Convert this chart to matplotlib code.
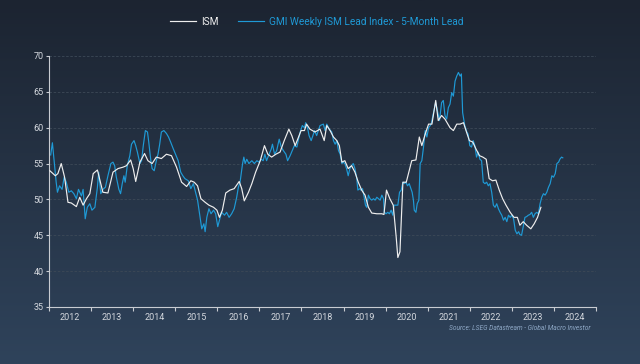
import matplotlib
matplotlib.use("Agg")
import matplotlib.pyplot as plt
import numpy as np

plt.rcParams['font.family'] = ['Roboto', 'DejaVu Sans']

# ISM (monthly) - decimal year / index level
ism_x = [2012.02, 2012.15, 2012.21, 2012.29, 2012.37, 2012.45, 2012.53, 2012.65, 2012.73, 2012.81,
         2012.89, 2012.97, 2013.05, 2013.15, 2013.20, 2013.28, 2013.40, 2013.52, 2013.64, 2013.76,
         2013.84, 2013.94, 2014.00, 2014.06, 2014.16, 2014.27, 2014.35, 2014.45, 2014.55, 2014.67,
         2014.79, 2014.91, 2015.03, 2015.15, 2015.27, 2015.37, 2015.45, 2015.53, 2015.61, 2015.71,
         2015.80, 2015.91, 2015.99, 2016.05, 2016.12, 2016.20, 2016.30, 2016.40, 2016.52, 2016.58,
         2016.64, 2016.74, 2016.82, 2016.91, 2017.02, 2017.12, 2017.20, 2017.29, 2017.39, 2017.49,
         2017.59, 2017.70, 2017.77, 2017.85, 2017.93, 2017.99, 2018.07, 2018.12, 2018.20, 2018.32,
         2018.44, 2018.54, 2018.60, 2018.68, 2018.76, 2018.84, 2018.90, 2018.96, 2019.03, 2019.11,
         2019.19, 2019.27, 2019.35, 2019.43, 2019.51, 2019.59, 2019.67, 2019.79, 2019.91, 2019.96,
         2020.02, 2020.10, 2020.18, 2020.25, 2020.29, 2020.34, 2020.41, 2020.49, 2020.56, 2020.62,
         2020.72, 2020.80, 2020.86, 2020.94, 2021.02, 2021.10, 2021.19, 2021.25, 2021.33, 2021.41,
         2021.53, 2021.61, 2021.69, 2021.77, 2021.85, 2021.91, 2021.99, 2022.07, 2022.15, 2022.23,
         2022.31, 2022.39, 2022.46, 2022.54, 2022.62, 2022.70, 2022.78, 2022.86, 2022.96, 2023.05,
         2023.13, 2023.19, 2023.27, 2023.35, 2023.45, 2023.53, 2023.61, 2023.69]
ism_y = [54.0, 53.3, 53.6, 55.0, 53.1, 49.6, 49.5, 49.0, 50.3, 49.2,
         50.1, 50.8, 53.6, 54.1, 52.9, 51.0, 50.9, 53.8, 54.3, 54.5,
         54.7, 55.5, 54.3, 52.5, 55.2, 56.4, 55.4, 55.0, 55.9, 55.7,
         56.3, 56.1, 54.5, 52.4, 51.8, 52.6, 52.4, 51.9, 50.1, 49.6,
         49.2, 48.9, 48.5, 47.5, 48.5, 50.9, 51.3, 51.5, 52.5, 51.5,
         49.8, 51.0, 52.2, 53.8, 55.4, 57.5, 56.3, 55.9, 56.3, 56.6,
         58.2, 59.8, 58.9, 57.5, 58.7, 59.6, 59.6, 60.5, 59.8, 59.4,
         59.8, 58.2, 60.3, 59.6, 58.7, 58.2, 57.5, 55.2, 55.4, 54.3,
         54.7, 53.8, 52.4, 51.3, 50.6, 48.9, 48.1, 48.0, 48.0, 47.9,
         51.3, 50.1, 49.2, 44.8, 41.9, 42.7, 52.4, 52.4, 54.0, 55.4,
         55.5, 58.7, 57.5, 59.1, 60.5, 60.5, 63.8, 61.0, 61.7, 61.2,
         60.0, 59.6, 60.5, 60.5, 60.7, 59.6, 58.2, 58.0, 57.0, 56.1,
         55.9, 55.6, 52.9, 52.6, 52.7, 51.3, 50.1, 49.2, 48.2, 47.5,
         47.5, 46.4, 46.9, 46.4, 45.9, 46.6, 47.5, 48.9]

# GMI weekly lead index (shifted 5 months forward)
gmi_x = [2012.04, 2012.08, 2012.12, 2012.17, 2012.20, 2012.25, 2012.31, 2012.36, 2012.41, 2012.47,
         2012.53, 2012.59, 2012.65, 2012.70, 2012.77, 2012.81, 2012.86, 2012.91, 2012.97, 2013.02,
         2013.09, 2013.15, 2013.18, 2013.23, 2013.28, 2013.34, 2013.40, 2013.47, 2013.52, 2013.56,
         2013.60, 2013.66, 2013.70, 2013.74, 2013.78, 2013.81, 2013.86, 2013.92, 2013.96, 2014.02,
         2014.06, 2014.10, 2014.16, 2014.20, 2014.24, 2014.29, 2014.34, 2014.37, 2014.42, 2014.45,
         2014.50, 2014.55, 2014.59, 2014.63, 2014.67, 2014.73, 2014.79, 2014.84, 2014.89, 2014.95,
         2015.00, 2015.07, 2015.13, 2015.18, 2015.23, 2015.31, 2015.37, 2015.43, 2015.49, 2015.53,
         2015.59, 2015.63, 2015.68, 2015.71, 2015.75, 2015.80, 2015.85, 2015.91, 2015.96, 2016.01,
         2016.05, 2016.10, 2016.17, 2016.22, 2016.28, 2016.34, 2016.40, 2016.46, 2016.50, 2016.54,
         2016.60, 2016.63, 2016.66, 2016.70, 2016.75, 2016.82, 2016.88, 2016.94, 2016.99, 2017.04,
         2017.09, 2017.13, 2017.17, 2017.23, 2017.28, 2017.31, 2017.36, 2017.41, 2017.47, 2017.52,
         2017.57, 2017.63, 2017.67, 2017.73, 2017.78, 2017.83, 2017.89, 2017.93, 2017.97, 2018.02,
         2018.07, 2018.10, 2018.15, 2018.18, 2018.23, 2018.26, 2018.31, 2018.36, 2018.44, 2018.52,
         2018.56, 2018.60, 2018.66, 2018.72, 2018.76, 2018.80, 2018.84, 2018.88, 2018.92, 2018.96,
         2018.99, 2019.03, 2019.07, 2019.11, 2019.15, 2019.19, 2019.23, 2019.27, 2019.31, 2019.34,
         2019.38, 2019.41, 2019.45, 2019.49, 2019.52, 2019.55, 2019.59, 2019.63, 2019.67, 2019.71,
         2019.75, 2019.79, 2019.83, 2019.87, 2019.91, 2019.95, 2019.97, 2020.01, 2020.05, 2020.09,
         2020.13, 2020.17, 2020.20, 2020.25, 2020.29, 2020.33, 2020.37, 2020.41, 2020.44, 2020.48,
         2020.52, 2020.56, 2020.60, 2020.63, 2020.66, 2020.68, 2020.72, 2020.75, 2020.79, 2020.82,
         2020.86, 2020.90, 2020.94, 2020.98, 2021.02, 2021.06, 2021.09, 2021.13, 2021.19, 2021.23,
         2021.28, 2021.33, 2021.37, 2021.41, 2021.45, 2021.49, 2021.53, 2021.57, 2021.61, 2021.65,
         2021.69, 2021.73, 2021.77, 2021.80, 2021.83, 2021.88, 2021.93, 2021.96, 2022.00, 2022.04,
         2022.08, 2022.12, 2022.16, 2022.20, 2022.24, 2022.28, 2022.32, 2022.36, 2022.40, 2022.44,
         2022.48, 2022.52, 2022.56, 2022.60, 2022.64, 2022.68, 2022.72, 2022.76, 2022.80, 2022.84,
         2022.88, 2022.92, 2022.96, 2023.00, 2023.04, 2023.08, 2023.12, 2023.16, 2023.19, 2023.23,
         2023.27, 2023.31, 2023.35, 2023.39, 2023.43, 2023.47, 2023.51, 2023.55, 2023.59, 2023.63,
         2023.67, 2023.71, 2023.75, 2023.79, 2023.83, 2023.87, 2023.91, 2023.95, 2023.99, 2024.03,
         2024.07, 2024.11, 2024.14, 2024.18, 2024.21]
gmi_y = [56.2, 57.9, 55.4, 52.4, 51.0, 51.9, 51.4, 53.1, 52.4, 51.0,
         51.2, 50.8, 50.1, 51.4, 50.5, 51.4, 47.3, 48.9, 49.4, 48.5,
         48.9, 51.7, 53.8, 50.8, 51.4, 51.7, 53.3, 55.0, 55.2, 54.7,
         53.1, 51.4, 50.8, 52.2, 53.3, 52.4, 54.7, 56.1, 57.7, 58.2,
         57.5, 56.6, 55.0, 55.4, 57.5, 59.6, 59.4, 58.0, 55.4, 54.3,
         54.0, 55.4, 56.3, 57.7, 59.4, 59.6, 59.2, 58.7, 58.0, 57.1,
         56.4, 55.4, 53.8, 53.3, 52.9, 52.6, 51.5, 52.2, 50.8, 49.9,
         47.5, 45.9, 46.6, 45.5, 47.5, 48.7, 48.0, 48.5, 48.0, 46.2,
         47.1, 48.2, 47.8, 48.2, 47.5, 48.0, 48.7, 50.3, 51.7, 52.4,
         55.0, 55.9, 55.0, 55.6, 55.0, 55.4, 55.0, 55.4, 55.2, 55.6,
         55.4, 56.3, 55.4, 56.3, 57.0, 57.7, 56.3, 56.8, 58.4, 57.3,
         56.8, 56.3, 55.4, 56.1, 56.8, 57.5, 57.3, 58.4, 59.4, 60.3,
         60.0, 60.7, 59.8, 58.9, 58.2, 58.7, 59.6, 58.9, 60.3, 60.5,
         59.6, 60.5, 59.8, 59.4, 58.2, 57.7, 58.2, 56.8, 56.3, 55.0,
         55.2, 55.0, 54.3, 53.3, 54.3, 54.7, 55.0, 54.3, 53.1, 51.3,
         51.5, 51.3, 51.5, 50.3, 49.2, 48.9, 50.6, 50.1, 49.9, 50.1,
         49.9, 50.3, 50.1, 49.9, 50.6, 50.1, 48.2, 48.0, 48.2, 48.0,
         48.5, 47.8, 49.2, 49.2, 49.2, 51.0, 51.3, 52.4, 52.2, 52.4,
         51.9, 52.2, 51.5, 51.0, 49.9, 48.5, 48.2, 49.4, 49.9, 55.0,
         55.4, 57.3, 59.6, 58.7, 60.0, 60.3, 60.7, 61.9, 63.5, 62.4,
         61.0, 63.5, 63.8, 61.7, 61.2, 62.8, 63.3, 64.9, 64.4, 66.5,
         67.2, 67.7, 67.2, 67.5, 62.1, 60.3, 59.4, 59.1, 57.5, 57.3,
         58.2, 57.5, 55.9, 56.6, 55.6, 55.4, 52.4, 52.2, 52.4, 51.9,
         52.2, 51.0, 49.2, 48.9, 49.4, 48.7, 48.2, 47.8, 47.1, 47.5,
         46.9, 47.8, 47.5, 47.8, 47.3, 45.7, 45.2, 45.5, 45.1, 45.0,
         46.2, 47.5, 47.6, 47.8, 47.9, 48.2, 47.5, 48.0, 48.2, 48.0,
         49.4, 50.3, 50.8, 50.6, 51.0, 51.7, 52.2, 53.3, 53.1, 53.6,
         55.0, 55.2, 55.6, 55.9, 55.8]

years = list(range(2012, 2025))
yticks = [35, 40, 45, 50, 55, 60, 65, 70]

fig = plt.figure(figsize=(6.4, 3.64), dpi=100)

# background gradient
bg = fig.add_axes([0, 0, 1, 1], zorder=-1)
grad = np.linspace(0, 1, 256).reshape(-1, 1)
top = np.array([0x1c, 0x24, 0x31]) / 255
bot = np.array([0x2f, 0x43, 0x5b]) / 255
img = top + grad[..., None] * (bot - top)
bg.imshow(img, aspect='auto', extent=[0, 1, 0, 1])
bg.axis('off')

ax = fig.add_axes([0.0766, 0.1566, 0.8547, 0.6896])
ax.set_facecolor('none')

ax.plot(ism_x, ism_y, color='#eeeeee', lw=0.85, label='ISM', zorder=3)
ax.plot(gmi_x, gmi_y, color='#1f9ad6', lw=0.85, label='GMI Weekly ISM Lead Index - 5-Month Lead', zorder=2)

ax.set_xlim(2012, 2025)
ax.set_ylim(35, 70)
ax.set_yticks(yticks)
ax.set_xticks(years + [2025])
ax.set_xticklabels([])
ax.set_xticks([y + 0.5 for y in years], minor=True)
ax.set_xticklabels([str(y) for y in years], minor=True)
ax.tick_params(axis='x', which='major', length=3, color='#c8ccd2', width=0.8)
ax.tick_params(axis='x', which='minor', length=0, labelsize=6.5, colors='#d4d8de', pad=4)
ax.tick_params(axis='y', length=2, color='#c8ccd2', labelsize=6.5, labelcolor='#d4d8de', pad=2)

for v in yticks[1:]:
    ax.axhline(v, color='#3d4957', lw=0.6, ls=(0, (3, 2)), zorder=1)

for s in ['top', 'right']:
    ax.spines[s].set_visible(False)
for s in ['left', 'bottom']:
    ax.spines[s].set_color('#c8ccd2')
    ax.spines[s].set_linewidth(0.8)

leg = fig.legend(loc='center', bbox_to_anchor=(0.495, 0.94), ncol=2, frameon=False,
                 fontsize=7.3, handlelength=2.6, columnspacing=1.9, handletextpad=0.5)
leg.get_texts()[0].set_color('#eeeeee')
leg.get_texts()[1].set_color('#1f9ad6')

fig.text(0.922, 0.098, 'Source: LSEG Datastream - Global Macro Investor', ha='right', va='center',
         fontsize=4.8, style='italic', color='#8ea8c6')

fig.savefig('out.png', dpi=100)
